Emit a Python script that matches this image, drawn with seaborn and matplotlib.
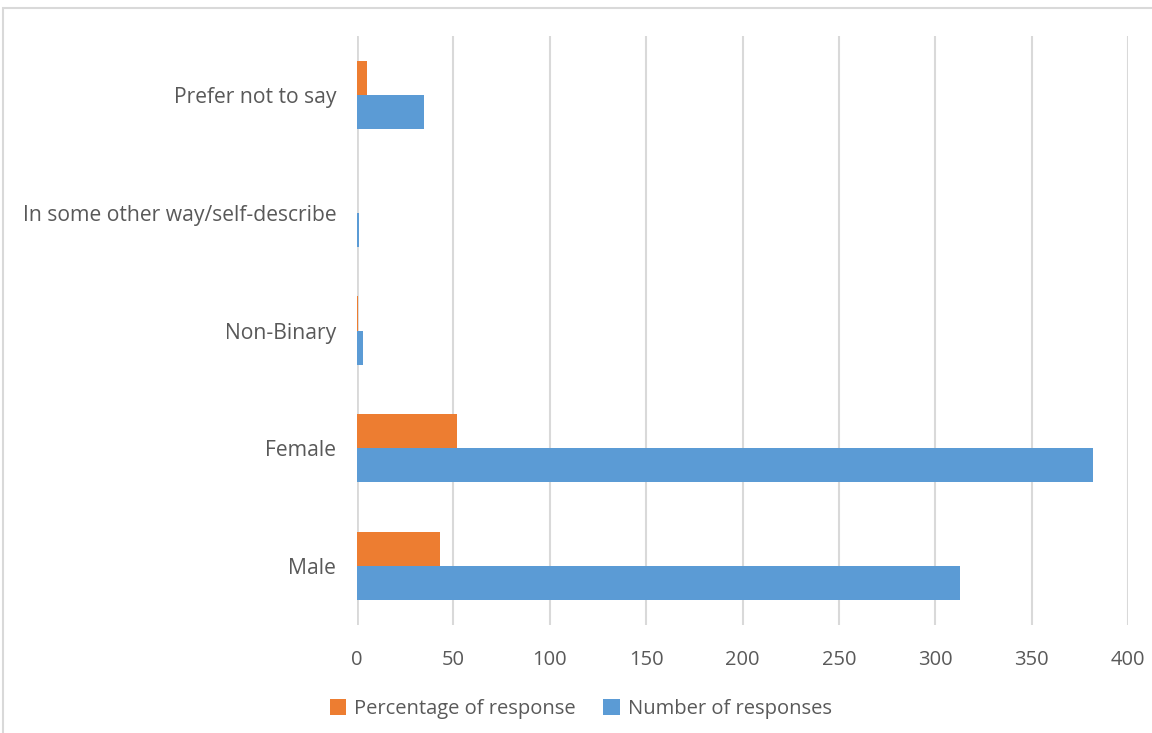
import pandas as pd
import numpy as np

import matplotlib.pyplot as plt
import seaborn as sns
from matplotlib.patches import Rectangle

categories = ["Prefer not to say", "In some other way/self-describe", "Non-Binary", "Female", "Male"]
pct_response = [5, 0.15, 0.4, 52, 43]
num_responses = [35, 1, 3, 382, 313]
x_ticks = [0, 50, 100, 150, 200, 250, 300, 350, 400]

df = pd.DataFrame({
    "Gender": categories * 2,
    "value": pct_response + num_responses,
    "series": ["Percentage of response"] * 5 + ["Number of responses"] * 5,
})

sns.set_style("white")
plt.rcParams['font.family'] = ['Open Sans', 'DejaVu Sans']
text_col = "#595959"

fig = plt.figure(figsize=(11.52, 7.33), dpi=100)
ax = fig.add_axes([357 / 1152, 1 - 625 / 733, (1128 - 357) / 1152, (625 - 36) / 733])

sns.barplot(data=df, y="Gender", x="value", hue="series",
            order=categories,
            hue_order=["Percentage of response", "Number of responses"],
            palette=["#ED7D31", "#5B9BD5"],
            width=0.58, orient="h", ax=ax, saturation=1, linewidth=0)

ax.set_xlim(0, 400)
ax.set_xticks(x_ticks)
ax.xaxis.grid(True, color="#D9D9D9", linewidth=1.5)
ax.set_axisbelow(True)
for s in ax.spines.values():
    s.set_visible(False)
ax.axvline(0, color="#D9D9D9", linewidth=2, zorder=0)
ax.tick_params(axis="both", length=0, labelsize=14.5, labelcolor=text_col)
ax.tick_params(axis="y", labelsize=15.2, pad=15)
ax.tick_params(axis="x", pad=18)
ax.set_xlabel("")
ax.set_ylabel("")

ax.legend(loc="upper center", bbox_to_anchor=(0.29, -0.095), ncol=2, frameon=False,
          fontsize=14.5, labelcolor=text_col, handlelength=0.8, handleheight=0.8,
          handletextpad=0.4, columnspacing=1.4)

fig.patches.append(Rectangle((3 / 1152, -0.05), 1.1, 1 - 8 / 733 + 0.05,
                             transform=fig.transFigure, fill=False,
                             edgecolor="#D9D9D9", linewidth=1.5))

fig.savefig("out.png", dpi=100)
